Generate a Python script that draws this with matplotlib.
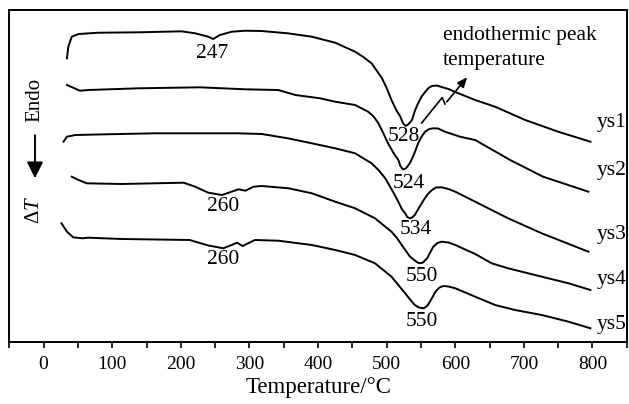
import numpy as np
from matplotlib import pyplot as plt
from matplotlib.patches import FancyArrowPatch

plt.rcParams['font.family'] = ['Liberation Serif', 'DejaVu Serif']
plt.rcParams['mathtext.fontset'] = 'custom'
plt.rcParams['mathtext.it'] = 'Liberation Serif:italic'
plt.rcParams['mathtext.rm'] = 'Liberation Serif'

# DTA curves, temperature (°C) and Delta T (arbitrary units, curves stacked)
t1 = [34, 36, 41, 51, 80, 138, 201, 221, 240, 247, 257, 274, 294, 318, 356, 391, 425, 454, 466, 478,
      493, 500, 507, 514, 520, 524, 528, 532, 537, 541, 546, 551, 556, 561, 566, 573, 580, 590, 600,
      629, 658, 702, 750, 797]
d1 = [291.7, 303.3, 313.3, 316, 317.3, 317.7, 318.7, 316.7, 313.3, 311, 315, 318.3, 319.3, 319,
      316.7, 313.3, 307.3, 298.3, 293, 286.7, 272, 262, 250, 240, 233.3, 226.5, 224, 226, 230, 239,
      247, 253.5, 258, 262, 264, 264.5, 263, 261, 258, 250, 243.3, 230, 218.3, 208.3]

t2 = [34, 53, 65, 138, 228, 294, 342, 367, 403, 425, 454, 473, 481, 488, 495, 502, 510, 517, 520,
      524, 528, 534, 540, 546, 551, 556, 562, 568, 575, 585, 607, 629, 680, 728, 794]
d2 = [265, 259.3, 260, 261.7, 262.7, 260.7, 260, 255, 251.7, 248.3, 245, 238.3, 233.5, 226.7, 217,
      206.7, 197, 190, 184, 180.5, 181.5, 187, 196, 207, 213.5, 218.3, 221, 221.7, 221.5, 218.3,
      213.3, 210, 190, 173.3, 158.3]

t3 = [29, 34, 46, 90, 162, 283, 318, 356, 391, 425, 454, 478, 488, 498, 505, 511, 517, 522, 527,
      530, 534, 537, 541, 547, 554, 560, 566, 572, 580, 590, 600, 629, 677, 726, 794]
d3 = [208.3, 213.3, 215, 215.7, 216.7, 216.7, 216, 211.7, 206.7, 201.7, 196.7, 186.7, 180, 171.7,
      163.3, 156, 148.3, 141, 136.7, 133, 131.7, 132.5, 135, 142, 150, 156, 160, 162.5, 162.7, 161,
      158.3, 148.3, 131.7, 116.7, 98.3]

t4 = [41, 51, 63, 114, 204, 221, 240, 260, 274, 284, 294, 306, 318, 357, 391, 425, 454, 483, 495,
      507, 515, 522, 534, 542, 545, 549, 553, 559, 563, 568, 574, 580, 590, 600, 629, 653, 677, 726,
      765, 797]
d4 = [173.3, 170, 166.7, 166, 167.3, 163.3, 157.3, 155, 158.3, 160.7, 159.3, 163.3, 164, 161.7,
      156.7, 148.3, 141.7, 131.7, 125, 118.3, 112, 105, 93.3, 89, 87.5, 86.7, 87.5, 91.7, 97, 103.3,
      107, 108.3, 107.5, 105, 96, 86.7, 81.7, 73.3, 66.7, 60]

t5 = [26, 34, 43, 56, 65, 114, 213, 240, 262, 274, 282, 290, 308, 342, 391, 425, 454, 483, 507,
      517, 527, 534, 541, 547, 554, 559, 563, 567, 571, 577, 583, 590, 600, 629, 658, 687, 726, 765,
      797]
d5 = [126.7, 118.3, 112.7, 111.7, 112.3, 111, 110, 104.5, 101.7, 105, 107.3, 104, 110, 109.3, 105,
      100, 95, 86.7, 73.3, 65, 56.7, 50.5, 45, 42.5, 41.7, 44, 48.3, 53, 58.3, 62.5, 64, 63.5, 61.7,
      53.3, 45, 40, 35, 28.3, 21.7]

names = ['ys1', 'ys2', 'ys3', 'ys4', 'ys5']
name_y = [228, 180, 115, 70, 25]

# peak labels: text, x, y
peaks = [('247', 246, 297), ('528', 525, 214), ('524', 532, 167), ('534', 543, 120),
         ('550', 552, 73), ('550', 552, 28), ('260', 261, 143), ('260', 261, 90)]

fig = plt.figure(figsize=(6.29, 4.04), dpi=100)
ax = fig.add_axes([0.0148, 0.1535, 0.9828, 0.8217])

for t, d in zip([t1, t2, t3, t4, t5], [d1, d2, d3, d4, d5]):
    ax.plot(t, d, color='black', lw=1.4, solid_joinstyle='round')

for n, y in zip(names, name_y):
    ax.text(806, y, n, fontsize=15.5, ha='left', va='center')

for s, x, y in peaks:
    ax.text(x, y, s, fontsize=15.5, ha='center', va='center')

ax.text(582, 302, 'endothermic peak\ntemperature', fontsize=15.5, ha='left', va='center',
        linespacing=1.4)

# squiggly arrow
ax.plot([551, 581, 585], [227, 252.5, 246], color='black', lw=1.2)
ax.annotate('', xy=(620, 275), xytext=(585, 246),
            arrowprops=dict(arrowstyle='-|>,head_length=0.6,head_width=0.25', color='black', lw=1.2))

ax.set_xlim(-50, 851)
ax.set_ylim(8, 340)
ax.set_xticks(np.arange(0, 801, 100))
ax.set_xticks(np.arange(-50, 851, 50), minor=True)
ax.set_yticks([])
ax.tick_params(axis='x', which='both', direction='out', length=4, width=1.2, labelsize=14, pad=6)
for sp in ax.spines.values():
    sp.set_linewidth(1.4)
ax.set_xlabel('Temperature/°C', fontsize=16.5, labelpad=3)

# Endo arrow and Delta T label
fig.text(0.0556, 0.7525, 'Endo', rotation=90, fontsize=15, ha='center', va='center')
fig.add_artist(FancyArrowPatch((0.0556, 0.672), (0.0556, 0.552),
               transform=fig.transFigure, arrowstyle='-|>,head_length=0.7,head_width=0.35',
               color='black', lw=1.4, mutation_scale=14))
fig.text(0.0556, 0.48, r'$\Delta T$', rotation=90, fontsize=15, ha='center', va='center')

plt.savefig('out.png', dpi=100)
